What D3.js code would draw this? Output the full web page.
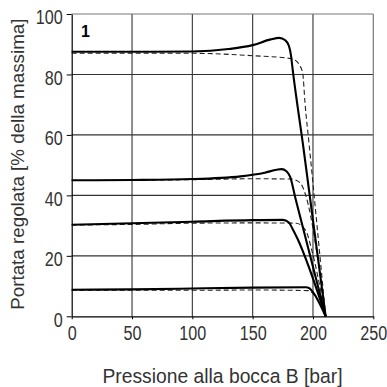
<!DOCTYPE html>
<html><head><meta charset="utf-8">
<script src="https://cdn.jsdelivr.net/npm/d3@7"></script>
<style>body{margin:0;background:#fff}svg{display:block}</style>
</head><body><svg id="c" width="387" height="387"></svg>
<script>
const xTicks = [0, 50, 100, 150, 200, 250];
const yTicks = [0, 20, 40, 60, 80, 100];
const xTitle = "Pressione alla bocca B [bar]";
const yTitle = "Portata regolata [% della massima]";
const panelLabel = "1";

const solid1 = [[0,87.5],[50,87.5],[100,87.6],[130,88.4],[150,89.7],[165,91.6],[172,92.1],[177,91.3],[180,89.5],[181.7,86.5],[183.2,81.5],[192,56],[210.5,0]];
const dashed1 = [[0,87],[100,87],[150,86.2],[181,85.3],[186,84.5],[189,83],[191.5,80.4],[193.4,70.5],[197,56.1],[210.5,0]];
const solid2 = [[0,45],[50,45.1],[100,45.4],[140,46.3],[160,47.5],[170,48.5],[174,48.7],[178,48],[181,46.2],[185.5,39],[210.5,0]];
const dashed2 = [[0,44.9],[100,45.2],[150,45.5],[182,45.4],[187,44.8],[191,43.2],[194,40],[210.5,0]];
const solid3 = [[0,30.3],[50,30.8],[100,31.3],[150,31.8],[175,31.9],[180,31],[183,29],[187,25.8],[210.5,0]];
const dashed3 = [[0,30.2],[50,30.4],[100,30.8],[150,30.9],[186,30.8],[191,29.8],[195,27.5],[199,21.9],[210.5,0]];
const solid4 = [[0,8.8],[50,8.9],[100,9.2],[150,9.5],[194,9.6],[197,9.3],[200,8],[210.5,0]];
const dashed4 = [[0,8.6],[100,8.6],[150,8.7],[196,8.5],[199,7.9],[202,6.5],[210.5,0]];

const solidSeries = [solid1, solid2, solid3, solid4];
const dashedSeries = [dashed1, dashed2, dashed3, dashed4];

const svg = d3.select("#c");
const L = 71.7, R = 373.3, T = 14, B = 316.3;
const x = d3.scaleLinear().domain([0, 250]).range([L, R]);
const y = d3.scaleLinear().domain([0, 100]).range([B, T]);

// grid
const g = svg.append("g");
g.selectAll(".vg").data(xTicks.filter(d => d > 0 && d < 250)).join("line")
  .attr("x1", d => x(d)).attr("x2", d => x(d)).attr("y1", T).attr("y2", B)
  .attr("stroke", "#333").attr("stroke-width", 1.1);
g.selectAll(".hg").data(yTicks.filter(d => d > 0 && d < 100)).join("line")
  .attr("x1", L).attr("x2", R).attr("y1", d => y(d)).attr("y2", d => y(d))
  .attr("stroke", "#333").attr("stroke-width", 1.1);
// frame top/right
svg.append("line").attr("x1", L).attr("x2", R).attr("y1", T).attr("y2", T).attr("stroke", "#777").attr("stroke-width", 1.2);
svg.append("line").attr("x1", R).attr("x2", R).attr("y1", T).attr("y2", B).attr("stroke", "#777").attr("stroke-width", 1.2);

// axes
const fontTick = "'Liberation Sans', Arial, sans-serif";
const digitW = 9.0;
const ax = svg.append("g").attr("transform", `translate(0,${B})`)
  .call(d3.axisBottom(x).tickValues(xTicks).tickSize(3).tickPadding(7).tickSizeOuter(0));
ax.select(".domain").attr("stroke", "#000").attr("stroke-width", 1.2);
ax.selectAll("text").attr("font-family", fontTick).attr("font-size", 19.5).attr("fill", "#333")
  .attr("textLength", d => String(d).length * digitW).attr("lengthAdjust", "spacingAndGlyphs");
const ay = svg.append("g").attr("transform", `translate(${L},0)`)
  .call(d3.axisLeft(y).tickValues(yTicks).tickSize(5).tickPadding(4).tickSizeOuter(0));
ay.select(".domain").attr("stroke", "#000").attr("stroke-width", 1.2);
ay.selectAll("text").attr("font-family", fontTick).attr("font-size", 19.5).attr("fill", "#333").attr("dy", "0.5em")
  .attr("textLength", d => String(d).length * digitW).attr("lengthAdjust", "spacingAndGlyphs");

// curves
const line = d3.line().x(d => x(d[0])).y(d => y(d[1])).curve(d3.curveMonotoneX);
svg.append("g").selectAll("path").data(dashedSeries).join("path")
  .attr("d", line).attr("fill", "none").attr("stroke", "#222")
  .attr("stroke-width", 1.1).attr("stroke-dasharray", "5,3");
svg.append("g").selectAll("path").data(solidSeries).join("path")
  .attr("d", line).attr("fill", "none").attr("stroke", "#000")
  .attr("stroke-width", 2.1);

// titles
const fontT = "'Liberation Sans', Arial, sans-serif";
svg.append("text").attr("x", (L + R) / 2).attr("y", 383).attr("text-anchor", "middle")
  .attr("font-family", fontT).attr("font-size", 19.3).attr("fill", "#333").text(xTitle);
svg.append("text").attr("transform", `translate(24,${(T + B) / 2 - 1}) rotate(-90)`).attr("text-anchor", "middle")
  .attr("font-family", fontT).attr("font-size", 18.8).attr("fill", "#333").text(yTitle);
svg.append("text").attr("x", 81).attr("y", 36.5).attr("font-family", fontT)
  .attr("font-weight", "bold").attr("font-size", 16).attr("fill", "#000").text(panelLabel);
</script></body></html>
